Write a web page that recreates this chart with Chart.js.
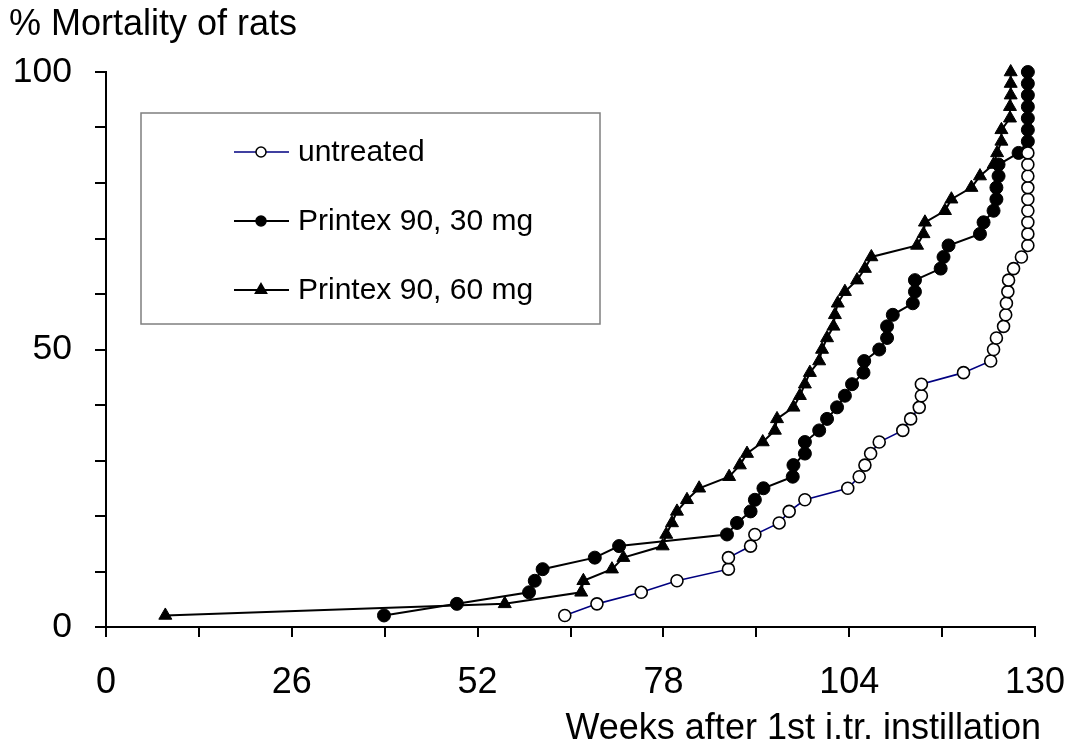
<!DOCTYPE html>
<html>
<head>
<meta charset="utf-8">
<title>% Mortality of rats</title>
<script src="https://cdn.jsdelivr.net/npm/chart.js@4/dist/chart.umd.min.js"></script>
<style>
  html, body { margin: 0; padding: 0; background: #fff; }
  #wrap { width: 1073px; height: 749px; }
</style>
</head>
<body>
<div id="wrap"><canvas id="mortalityChart" width="1073" height="749"></canvas></div>
<script>
// weeks after first instillation at which each death occurred
const untreatedWeeks = [64.2, 68.7, 74.9, 79.9, 87.1, 87.1, 90.2, 90.8, 94.2, 95.6,
  97.8, 103.8, 105.4, 106.2, 107.0, 108.2, 111.5, 112.6, 113.8, 114.1,
  114.1, 120.0, 123.8, 124.2, 124.6, 125.6, 125.9, 126.0, 126.2, 126.3,
  127.0, 128.1, 129, 129, 129, 129, 129, 129, 129, 129, 129];
const untreatedMortality = [2.08, 4.17, 6.25, 8.33, 10.42, 12.5, 14.58, 16.67, 18.75, 20.83,
  22.92, 25.0, 27.08, 29.17, 31.25, 33.33, 35.42, 37.5, 39.58, 41.67,
  43.75, 45.83, 47.92, 50.0, 52.08, 54.17, 56.25, 58.33, 60.42, 62.5,
  64.58, 66.67, 68.75, 70.83, 72.92, 75.0, 77.08, 79.17, 81.25, 83.33, 85.42];

const mg30Weeks = [38.9, 49.1, 59.2, 60.0, 61.1, 68.4, 71.8, 86.9, 88.3, 90.2,
  90.8, 92.0, 96.1, 96.2, 97.8, 97.8, 99.8, 100.9, 102.3, 103.4,
  104.4, 106.0, 106.1, 108.2, 109.3, 109.3, 110.1, 112.9, 113.2, 113.2,
  116.8, 117.2, 117.9, 122.3, 122.8, 124.2, 124.6, 124.6, 124.9, 124.9,
  127.7, 129, 129, 129, 129, 129, 129, 129];
const mg60Weeks = [8.3, 55.8, 66.5, 66.8, 70.8, 72.4, 77.9, 78.4, 79.2, 79.9,
  81.3, 83.0, 87.2, 88.7, 89.7, 91.9, 93.6, 93.9, 96.2, 97.1,
  97.8, 98.5, 99.8, 100.2, 100.9, 101.8, 102.0, 102.4, 103.4, 105.1,
  106.2, 107.1, 113.5, 114.4, 114.6, 117.4, 118.3, 121.1, 122.3, 124.2,
  124.7, 125.3, 125.3, 126.5, 126.5, 126.6, 126.6, 126.6];
// both treated groups share the same cumulative steps
const treatedMortality = [2.08, 4.17, 6.25, 8.33, 10.42, 12.5, 14.58, 16.67, 18.75, 20.83,
  22.92, 25.0, 27.08, 29.17, 31.25, 33.33, 35.42, 37.5, 39.58, 41.67,
  43.75, 45.83, 47.92, 50.0, 52.08, 54.17, 56.25, 58.33, 60.42, 62.5,
  64.58, 66.67, 68.75, 70.83, 72.92, 75.0, 77.08, 79.17, 81.25, 83.33,
  85.42, 87.5, 89.58, 91.67, 93.75, 95.83, 97.92, 100.0];

const seriesNames = ['untreated', 'Printex 90, 30 mg', 'Printex 90, 60 mg'];
const xTickLabels = [0, 26, 52, 78, 104, 130];
const yTickLabels = [0, 50, 100];
const xTitle = 'Weeks after 1st i.tr. instillation';
const yTitle = '% Mortality of rats';

const FONT = 'Liberation Sans, Arial, sans-serif';

function toPoints(xs, ys) {
  return xs.map((x, i) => ({ x: x, y: ys[i] }));
}

// small marker painter for the legend box
function drawMarker(ctx, style, x, y, r, fill, stroke) {
  ctx.beginPath();
  if (style === 'triangle') {
    for (let k = 0; k < 3; k++) {
      const a = k * 2 * Math.PI / 3;
      const px = x + Math.sin(a) * r;
      const py = y - Math.cos(a) * r;
      k === 0 ? ctx.moveTo(px, py) : ctx.lineTo(px, py);
    }
    ctx.closePath();
  } else {
    ctx.arc(x, y, r, 0, Math.PI * 2);
  }
  ctx.fillStyle = fill;
  ctx.fill();
  ctx.strokeStyle = stroke;
  ctx.lineWidth = 1.5;
  ctx.stroke();
}

// boxed legend inside the plot plus the two axis captions
const legendBox = {
  id: 'legendBox',
  afterDraw(chart) {
    const ctx = chart.ctx;
    const area = chart.chartArea;
    ctx.save();
    ctx.strokeStyle = '#7f7f7f';
    ctx.lineWidth = 1.5;
    ctx.strokeRect(141, 113, 459, 211);

    chart.data.datasets.forEach((ds, i) => {
      const y = 152 + i * 69;
      ctx.strokeStyle = ds.borderColor;
      ctx.lineWidth = ds.borderWidth;
      ctx.beginPath();
      ctx.moveTo(234, y);
      ctx.lineTo(289, y);
      ctx.stroke();
      drawMarker(ctx, ds.pointStyle, 261, y, ds.pointStyle === 'triangle' ? 6.5 : 5,
        ds.pointBackgroundColor, ds.pointBorderColor);
      ctx.fillStyle = '#000';
      ctx.font = '30px ' + FONT;
      ctx.textAlign = 'left';
      ctx.textBaseline = 'middle';
      ctx.fillText(ds.label, 298, y + 1);
    });

    ctx.font = '36px ' + FONT;
    ctx.fillStyle = '#000';
    ctx.textBaseline = 'middle';
    ctx.textAlign = 'left';
    ctx.fillText(yTitle, 9, 25);
    ctx.textAlign = 'right';
    ctx.fillText(xTitle, area.right + 6, 729);
    ctx.restore();
  }
};

const ctx = document.getElementById('mortalityChart').getContext('2d');

new Chart(ctx, {
  type: 'line',
  data: {
    datasets: [{
      label: seriesNames[0],
      data: toPoints(untreatedWeeks, untreatedMortality),
      borderColor: '#000080',
      borderWidth: 1.6,
      pointStyle: 'circle',
      pointRadius: 6,
      pointBackgroundColor: '#fff',
      pointBorderColor: '#000',
      pointBorderWidth: 1.6,
      clip: false
    }, {
      label: seriesNames[1],
      data: toPoints(mg30Weeks, treatedMortality),
      borderColor: '#000',
      borderWidth: 2,
      pointStyle: 'circle',
      pointRadius: 6.5,
      pointBackgroundColor: '#000',
      pointBorderColor: '#000',
      pointBorderWidth: 1,
      clip: false
    }, {
      label: seriesNames[2],
      data: toPoints(mg60Weeks, treatedMortality),
      borderColor: '#000',
      borderWidth: 2,
      pointStyle: 'triangle',
      pointRadius: 7.5,
      pointBackgroundColor: '#000',
      pointBorderColor: '#000',
      pointBorderWidth: 1,
      clip: false
    }]
  },
  options: {
    responsive: false,
    animation: false,
    devicePixelRatio: 1,
    layout: { padding: { top: 72, right: 38, bottom: 0, left: 0 } },
    plugins: {
      legend: { display: false },
      tooltip: { enabled: false }
    },
    elements: { line: { tension: 0 } },
    scales: {
      x: {
        type: 'linear',
        min: 0,
        max: 130,
        border: { color: '#000', width: 2 },
        grid: { drawOnChartArea: false, color: '#000', lineWidth: 2, tickLength: 10 },
        ticks: {
          stepSize: 13,
          autoSkip: false,
          maxRotation: 0,
          padding: 24,
          color: '#000',
          font: { family: FONT, size: 36 },
          callback: v => xTickLabels.includes(v) ? String(v) : ''
        },
        // fixed box: labels at the ends may overhang into the page margin
        afterFit: scale => {
          scale.height = 122;
          scale.paddingLeft = 0;
          scale.paddingRight = 0;
        }
      },
      y: {
        min: 0,
        max: 100,
        border: { color: '#000', width: 2 },
        grid: { drawOnChartArea: false, color: '#000', lineWidth: 2, tickLength: 11 },
        ticks: {
          stepSize: 10,
          autoSkip: false,
          padding: 23,
          color: '#000',
          font: { family: FONT, size: 35.5 },
          callback: v => yTickLabels.includes(v) ? String(v) : ''
        },
        afterFit: scale => {
          scale.width = 106;
          scale.paddingTop = 0;
          scale.paddingBottom = 0;
        }
      }
    }
  },
  plugins: [legendBox]
});
</script>
</body>
</html>
